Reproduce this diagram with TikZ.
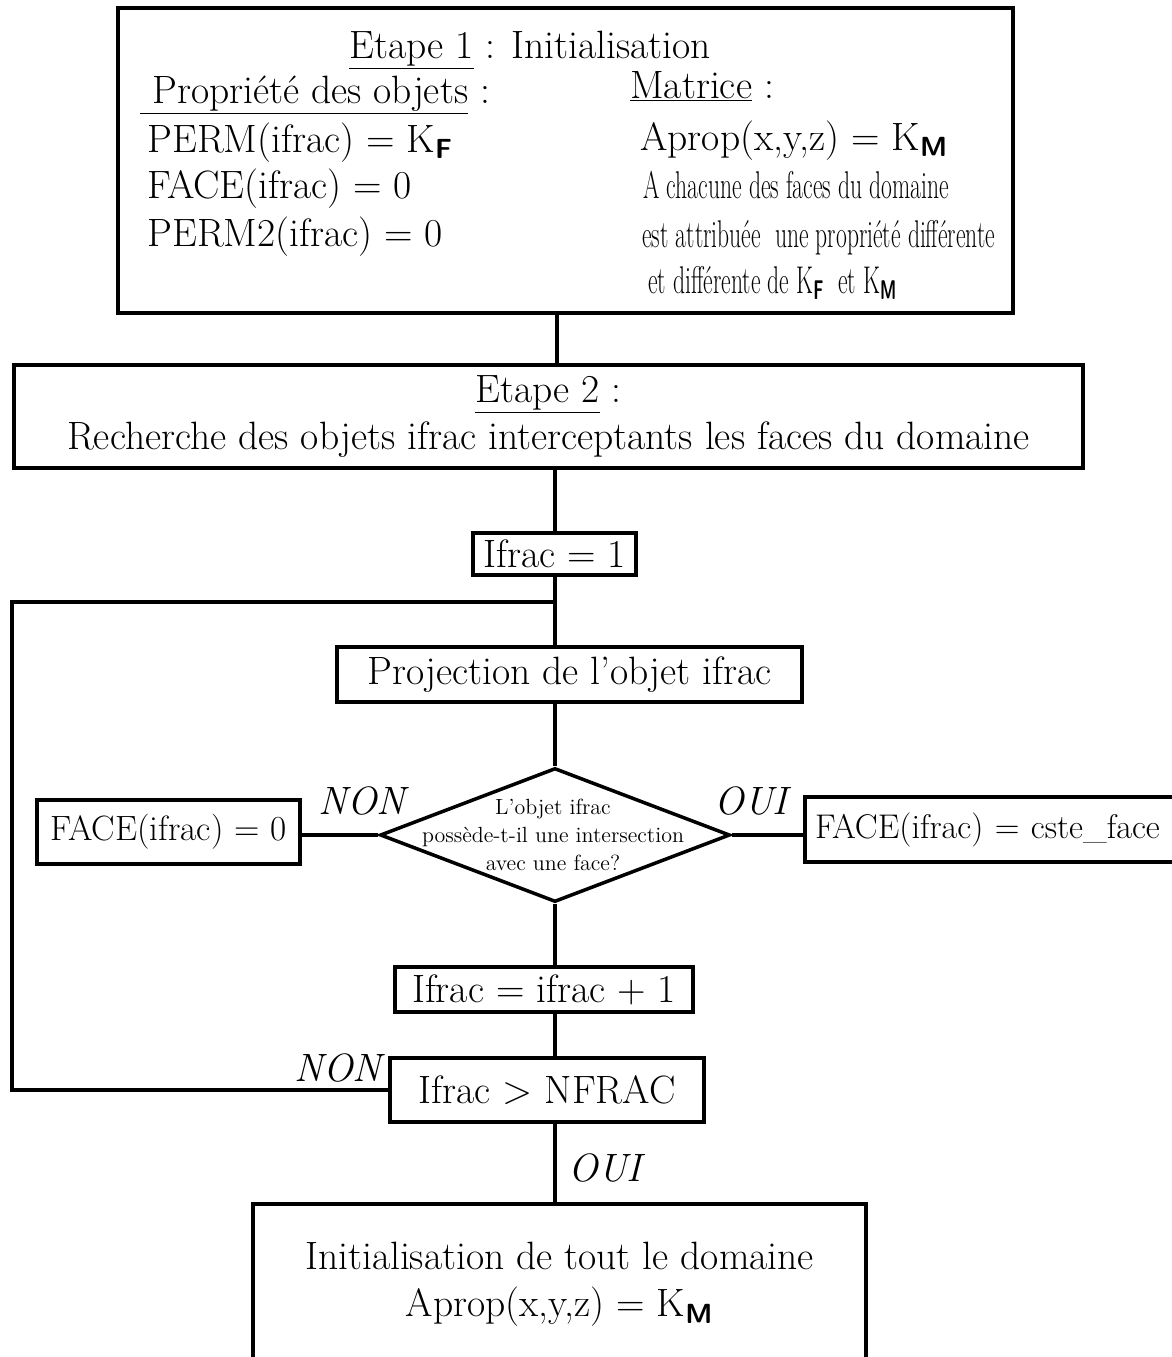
\documentclass[tikz,border=0pt]{standalone}
\usepackage{graphicx}
\usetikzlibrary{positioning,shapes.geometric}

\newcommand{\KF}{K\textsubscript{\sffamily\bfseries F}}
\newcommand{\KM}{K\textsubscript{\sffamily\bfseries M}}
\newcommand{\condtxt}[1]{\scalebox{0.61}[1]{#1}}

\begin{document}
\begin{tikzpicture}[x=0.02cm,y=0.02cm,
    box/.style={rectangle,draw,line width=2pt,align=center,inner sep=1pt,
      font=\fontsize{22.5}{27}\selectfont},
    decision/.style={diamond,draw,line width=2pt,inner sep=0pt,
      minimum width=7cm,minimum height=2.68cm},
    txt/.style={anchor=base west,inner sep=0pt,font=\fontsize{22.5}{27}\selectfont},
    small/.style={anchor=base west,inner sep=0pt,font=\fontsize{22}{26}\selectfont},
    answer/.style={inner sep=0pt,font=\fontsize{22.5}{27}\selectfont\itshape},
    flow/.style={line width=2pt}]
\useasboundingbox (0,0) rectangle (1171,-1357);

% Etape 1
\node[box,minimum width=17.9cm,minimum height=6.1cm] (e1) at (565.5,-160.5) {};
\node[txt,anchor=base] (e1title) at (530,-58) {\underline{Etape 1} : Initialisation};
\node[txt] (prop) at (140,-103) {\underline{ Propriété des objets} :};
\node[txt] (perm) at (147,-152) {PERM(ifrac) = \KF};
\node[txt] (face) at (147,-198) {FACE(ifrac) = 0};
\node[txt] (perm2) at (147,-246) {PERM2(ifrac) = 0};
\node[txt] (mat) at (630,-98) {\underline{Matrice} :};
\node[txt] (aprop) at (640,-150) {Aprop(x,y,z) = \KM};
\node[small] (desc1) at (643,-198) {\condtxt{A chacune des faces du domaine}};
\node[small] (desc2) at (642,-247) {\condtxt{est attribuée\ \ une propriété différente}};
\node[small] (desc3) at (648,-293) {\condtxt{et différente de \KF\ \ et \KM}};

% Etape 2 and loop
\node[box,minimum width=21.38cm,minimum height=2.06cm] (e2) at (548.5,-416.5)
  {\underline{Etape 2} :\\Recherche des objets ifrac interceptants les faces du domaine};
\node[box,minimum width=3.26cm,minimum height=0.84cm] (start) at (554.5,-554) {Ifrac = 1};
\node[box,minimum width=9.3cm,minimum height=1.1cm] (proj) at (569.5,-674.5) {Projection de l'objet ifrac};
\node[decision] (test) at (555,-835) {};
\node[align=center,inner sep=0pt,font=\fontsize{12.5}{16}\selectfont] (testtxt) at (553,-835)
  {L'objet ifrac\\possède-t-il une intersection\\avec une face?};
\node[box,minimum width=5.26cm,minimum height=1.28cm,font=\fontsize{20}{24}\selectfont] (face0)
  at (168.5,-832) {FACE(ifrac) = 0};
\node[box,minimum width=7.4cm,minimum height=1.3cm,text width=7cm,align=left,
  inner xsep=3pt,font=\fontsize{19.5}{23}\selectfont] (facec)
  at (990,-829.5) {FACE(ifrac) = cste\_face};
\node[box,minimum width=5.96cm,minimum height=0.9cm] (incr) at (544,-989.5) {Ifrac = ifrac + 1};
\node[box,minimum width=6.28cm,minimum height=1.28cm] (nfrac) at (547,-1090) {Ifrac > NFRAC};
\node[box,minimum width=12.26cm,minimum height=3.2cm] (init) at (559.5,-1284)
  {Initialisation de tout le domaine\\Aprop(x,y,z) = \KM};

\coordinate (axis) at (555,0);
\coordinate (join) at (555,-602);
\coordinate (loopc) at (12,-602);

\draw[flow] (e1.south -| 557,0) -- (e2.north -| 557,0);
\draw[flow] (e2.south -| axis) -- (start.north -| axis);
\draw[flow] (start.south -| axis) -- (proj.north -| axis);
\draw[flow] (proj.south -| axis) -- (test.north);
\draw[flow] (test.west) -- (test.west -| face0.east);
\draw[flow] (test.east) -- (test.east -| facec.west);
\draw[flow] (test.south) -- (incr.north -| axis);
\draw[flow] (incr.south -| axis) -- (nfrac.north -| axis);
\draw[flow] (nfrac.south -| axis) -- (init.north -| axis);
\draw[flow] (nfrac.west) -| (loopc) -- (join);

\node[answer] (non1) at (362,-801) {NON};
\node[answer] (oui1) at (751,-801) {OUI};
\node[answer] (non2) at (338,-1068) {NON};
\node[answer] (oui2) at (605,-1168) {OUI};
\end{tikzpicture}
\end{document}
